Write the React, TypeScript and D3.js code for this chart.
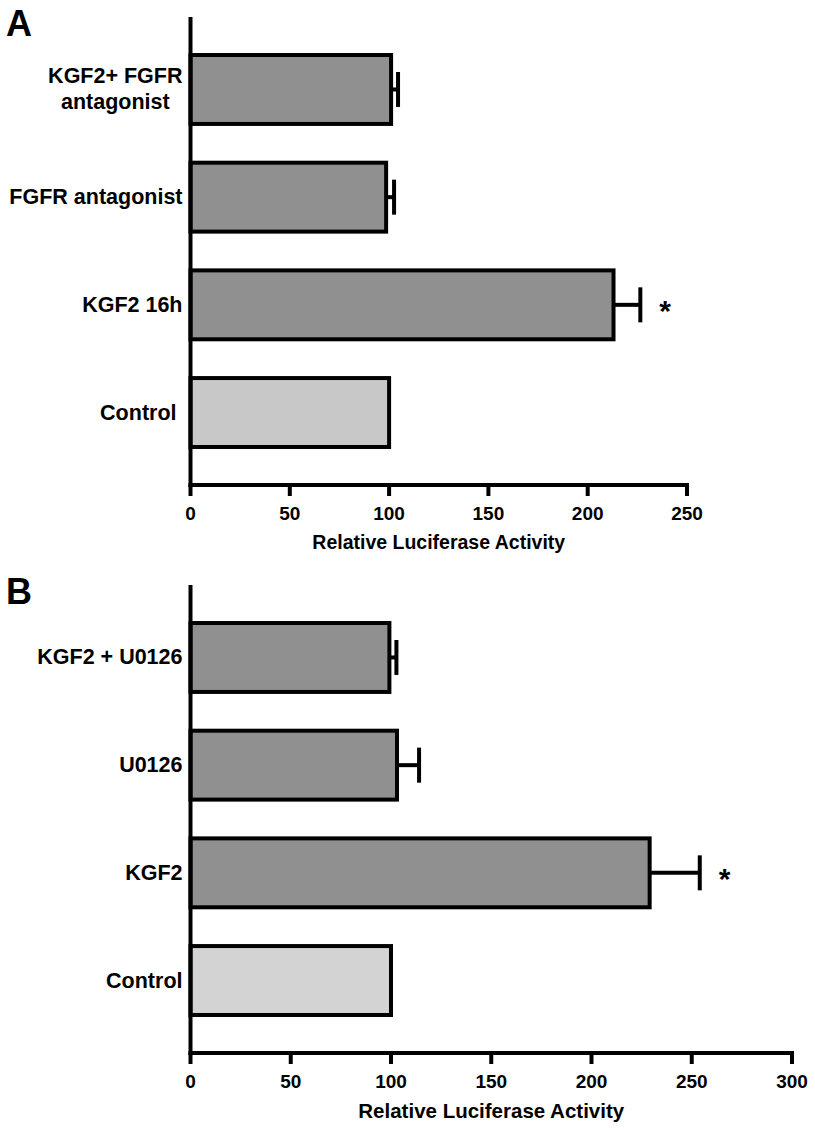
import React from "react";
import * as d3 from "d3";

// Panel A data
const catsA = ["KGF2+ FGFR\nantagonist", "FGFR antagonist", "KGF2 16h", "Control "];
const valsA = [101, 98.5, 213, 100];
const errsA = [3.5, 4, 13.5, 0];
const sigA = [false, false, true, false];
const ticksA = [0, 50, 100, 150, 200, 250];

// Panel B data
const catsB = ["KGF2 + U0126", "U0126", "KGF2", "Control"];
const valsB = [99.2, 103, 229, 100];
const errsB = [3.5, 11, 25, 0];
const sigB = [false, false, true, false];
const ticksB = [0, 50, 100, 150, 200, 250, 300];

const xTitle = "Relative Luciferase Activity";
const FONT = "'Liberation Sans', Arial, Helvetica, sans-serif";

let ctx: CanvasRenderingContext2D | null = null;
function measure(t: string, size: number) {
  if (!ctx) {
    const c = document.createElement("canvas");
    ctx = c.getContext("2d");
  }
  if (!ctx) return t.length * size * 0.55;
  ctx.font = `bold ${size}px ${FONT}`;
  return ctx.measureText(t).width;
}

type PanelProps = {
  letter: string;
  top: number;
  cats: string[];
  vals: number[];
  errs: number[];
  sig: boolean[];
  ticks: number[];
  xMaxPx: number;
  controlFill: string;
  titleSize: number;
  tickSize: number;
};

function Panel({ letter, top, cats, vals, errs, sig, ticks, xMaxPx, controlFill, titleSize, tickSize }: PanelProps) {
  const axisX = 190.5;
  const axisTop = top + 17;
  const axisY = top + 485;
  const tMax = ticks[ticks.length - 1];
  const x = d3.scaleLinear().domain([0, tMax]).range([axisX, xMaxPx]);
  const y = d3
    .scaleBand<string>()
    .domain(cats)
    .range([axisTop, axisY])
    .paddingInner(0.36)
    .paddingOuter(0.353);
  const bw = y.bandwidth();
  const labelSize = 21.5;
  const sw = 4;
  return (
    <g>
      <text x={6} y={top + 36} fontSize={36} fontWeight="bold" fontFamily={FONT}>
        {letter}
      </text>
      {cats.map((c, i) => {
        const y0 = y(c)!;
        const cy = y0 + bw / 2;
        const v = vals[i];
        const e = errs[i];
        const isControl = c.trim() === "Control";
        const lines = c.split("\n");
        const maxW = Math.max(...lines.map((l) => measure(l, labelSize)));
        return (
          <g key={c}>
            <rect
              x={x(0)}
              y={y0}
              width={x(v) - x(0)}
              height={bw}
              fill={isControl ? controlFill : "#909090"}
              stroke="#000"
              strokeWidth={sw}
            />
            {e > 0 && (
              <g stroke="#000" strokeWidth={sw}>
                <line x1={x(v)} x2={x(v + e)} y1={cy} y2={cy} />
                <line x1={x(v + e)} x2={x(v + e)} y1={cy - 17.5} y2={cy + 17.5} />
              </g>
            )}
            {sig[i] && (
              <text
                x={x(v + e) + 19}
                y={cy + 16}
                fontSize={30}
                fontWeight="bold"
                fontFamily={FONT}
              >
                *
              </text>
            )}
            {lines.length === 1 ? (
              <text
                x={axisX - 8}
                y={cy}
                textAnchor="end"
                dominantBaseline="central"
                fontSize={labelSize}
                fontWeight="bold"
                fontFamily={FONT}
                style={{ whiteSpace: "pre" }}
              >
                {c}
              </text>
            ) : (
              lines.map((l, k) => (
                <text
                  key={k}
                  x={axisX - 8 - maxW / 2}
                  y={cy + (k - (lines.length - 1) / 2) * 26}
                  textAnchor="middle"
                  dominantBaseline="central"
                  fontSize={labelSize}
                  fontWeight="bold"
                  fontFamily={FONT}
                >
                  {l}
                </text>
              ))
            )}
          </g>
        );
      })}
      {/* y axis */}
      <line x1={axisX} x2={axisX} y1={axisTop} y2={axisY + 2} stroke="#000" strokeWidth={sw} />
      {/* x axis */}
      <line x1={axisX - 2} x2={x(tMax) + 2} y1={axisY} y2={axisY} stroke="#000" strokeWidth={sw} />
      {ticks.map((t) => (
        <g key={t}>
          <line x1={x(t)} x2={x(t)} y1={axisY} y2={axisY + 11} stroke="#000" strokeWidth={sw} />
          <text
            x={x(t)}
            y={axisY + 28}
            textAnchor="middle"
            dominantBaseline="central"
            fontSize={tickSize}
            fontWeight="bold"
            fontFamily={FONT}
          >
            {t}
          </text>
        </g>
      ))}
      <text
        x={(axisX + x(tMax)) / 2}
        y={axisY + 57}
        textAnchor="middle"
        dominantBaseline="central"
        fontSize={titleSize}
        fontWeight="bold"
        fontFamily={FONT}
      >
        {xTitle}
      </text>
    </g>
  );
}

export default function App() {
  return (
    <svg
      width={815}
      height={1130}
      style={{ position: "absolute", left: 0, top: 0, background: "#fff" }}
    >
      <rect width={815} height={1130} fill="#fff" />
      <Panel
        letter="A"
        top={0}
        cats={catsA}
        vals={valsA}
        errs={errsA}
        sig={sigA}
        ticks={ticksA}
        xMaxPx={687}
        controlFill="#c8c8c8"
        titleSize={19.5}
        tickSize={19}
      />
      <Panel
        letter="B"
        top={568}
        cats={catsB}
        vals={valsB}
        errs={errsB}
        sig={sigB}
        ticks={ticksB}
        xMaxPx={792}
        controlFill="#d3d3d3"
        titleSize={20.5}
        tickSize={19}
      />
    </svg>
  );
}
